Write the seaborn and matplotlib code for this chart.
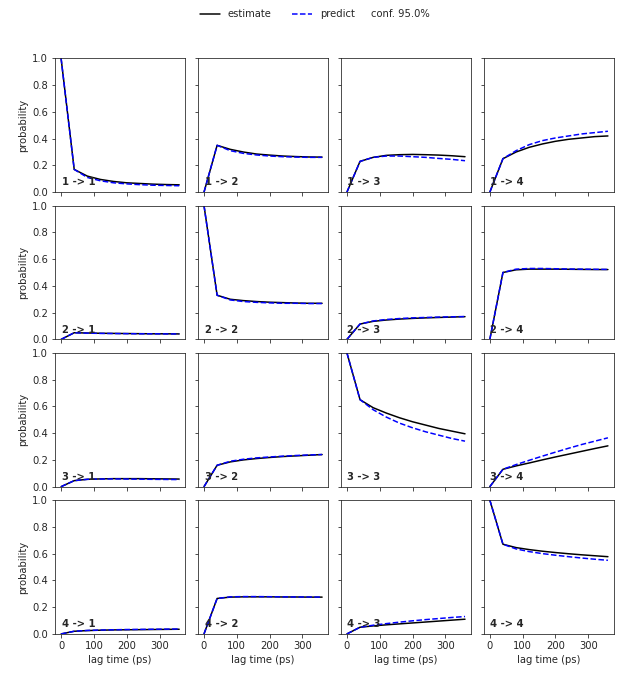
import pandas as pd
import seaborn as sns
import matplotlib.pyplot as plt
from matplotlib.transforms import ScaledTranslation

# lag times in ps
lags = [0, 40, 80, 120, 160, 200, 240, 280, 320, 360]
states = [1, 2, 3, 4]

# estimate / predict, one list per transition i -> j
est_11 = [1.0, 0.17, 0.12, 0.095, 0.08, 0.07, 0.065, 0.06, 0.057, 0.055]
pred_11 = [1.0, 0.17, 0.11, 0.085, 0.07, 0.062, 0.056, 0.052, 0.05, 0.048]
est_12 = [0.0, 0.35, 0.32, 0.30, 0.285, 0.277, 0.27, 0.266, 0.263, 0.262]
pred_12 = [0.0, 0.35, 0.31, 0.29, 0.278, 0.27, 0.265, 0.262, 0.26, 0.26]
est_13 = [0.0, 0.23, 0.26, 0.275, 0.28, 0.282, 0.28, 0.277, 0.272, 0.265]
pred_13 = [0.0, 0.23, 0.26, 0.27, 0.27, 0.265, 0.26, 0.252, 0.245, 0.235]
est_14 = [0.0, 0.25, 0.30, 0.335, 0.36, 0.38, 0.395, 0.405, 0.415, 0.42]
pred_14 = [0.0, 0.25, 0.31, 0.355, 0.385, 0.405, 0.42, 0.435, 0.445, 0.455]

est_21 = [0.0, 0.05, 0.048, 0.046, 0.045, 0.044, 0.043, 0.042, 0.042, 0.041]
pred_21 = [0.0, 0.05, 0.047, 0.045, 0.044, 0.043, 0.042, 0.042, 0.041, 0.041]
est_22 = [1.0, 0.33, 0.30, 0.29, 0.283, 0.278, 0.275, 0.272, 0.27, 0.27]
pred_22 = [1.0, 0.33, 0.295, 0.283, 0.277, 0.273, 0.27, 0.27, 0.268, 0.268]
est_23 = [0.0, 0.115, 0.135, 0.145, 0.152, 0.157, 0.161, 0.164, 0.167, 0.17]
pred_23 = [0.0, 0.115, 0.138, 0.149, 0.156, 0.161, 0.164, 0.167, 0.169, 0.171]
est_24 = [0.0, 0.50, 0.52, 0.525, 0.525, 0.525, 0.524, 0.523, 0.522, 0.522]
pred_24 = [0.0, 0.50, 0.525, 0.53, 0.53, 0.528, 0.526, 0.525, 0.524, 0.523]

est_31 = [0.0, 0.045, 0.055, 0.058, 0.06, 0.06, 0.06, 0.059, 0.058, 0.057]
pred_31 = [0.0, 0.045, 0.055, 0.057, 0.058, 0.057, 0.056, 0.055, 0.054, 0.053]
est_32 = [0.0, 0.16, 0.185, 0.20, 0.21, 0.218, 0.225, 0.23, 0.235, 0.24]
pred_32 = [0.0, 0.16, 0.19, 0.205, 0.215, 0.222, 0.228, 0.233, 0.237, 0.24]
est_33 = [1.0, 0.65, 0.59, 0.55, 0.515, 0.485, 0.46, 0.435, 0.415, 0.395]
pred_33 = [1.0, 0.65, 0.575, 0.52, 0.475, 0.44, 0.41, 0.385, 0.36, 0.34]
est_34 = [0.0, 0.13, 0.155, 0.177, 0.20, 0.222, 0.243, 0.264, 0.285, 0.305]
pred_34 = [0.0, 0.13, 0.165, 0.197, 0.228, 0.258, 0.287, 0.315, 0.34, 0.365]

est_41 = [0.0, 0.02, 0.025, 0.028, 0.03, 0.031, 0.032, 0.033, 0.034, 0.035]
pred_41 = [0.0, 0.02, 0.026, 0.029, 0.031, 0.033, 0.034, 0.035, 0.036, 0.037]
est_42 = [0.0, 0.265, 0.275, 0.277, 0.277, 0.277, 0.276, 0.276, 0.275, 0.275]
pred_42 = [0.0, 0.265, 0.277, 0.279, 0.279, 0.278, 0.277, 0.276, 0.276, 0.275]
est_43 = [0.0, 0.05, 0.06, 0.068, 0.075, 0.082, 0.089, 0.096, 0.103, 0.11]
pred_43 = [0.0, 0.05, 0.065, 0.077, 0.088, 0.098, 0.107, 0.115, 0.123, 0.13]
est_44 = [1.0, 0.67, 0.645, 0.63, 0.618, 0.608, 0.599, 0.591, 0.584, 0.577]
pred_44 = [1.0, 0.67, 0.635, 0.615, 0.60, 0.588, 0.577, 0.567, 0.558, 0.55]

estimates = {
    (1, 1): est_11, (1, 2): est_12, (1, 3): est_13, (1, 4): est_14,
    (2, 1): est_21, (2, 2): est_22, (2, 3): est_23, (2, 4): est_24,
    (3, 1): est_31, (3, 2): est_32, (3, 3): est_33, (3, 4): est_34,
    (4, 1): est_41, (4, 2): est_42, (4, 3): est_43, (4, 4): est_44,
}
predictions = {
    (1, 1): pred_11, (1, 2): pred_12, (1, 3): pred_13, (1, 4): pred_14,
    (2, 1): pred_21, (2, 2): pred_22, (2, 3): pred_23, (2, 4): pred_24,
    (3, 1): pred_31, (3, 2): pred_32, (3, 3): pred_33, (3, 4): pred_34,
    (4, 1): pred_41, (4, 2): pred_42, (4, 3): pred_43, (4, 4): pred_44,
}

sns.set_style("ticks")
plt.rcParams['font.family'] = ['DejaVu Sans']

# rendered at 72 dpi so default 10pt text matches the reference
fig, axes = plt.subplots(4, 4, sharex=True, sharey=True, figsize=(627 / 72, 678 / 72), dpi=72)
fig.subplots_adjust(left=0.088, right=0.979, top=0.914, bottom=0.065, wspace=0.1, hspace=0.1)

for i in states:
    for j in states:
        ax = axes[i - 1, j - 1]
        df = pd.DataFrame({'lag': lags, 'estimate': estimates[(i, j)], 'predict': predictions[(i, j)]})
        sns.lineplot(data=df, x='lag', y='estimate', ax=ax, color='k', linestyle='-', linewidth=1.5)
        sns.lineplot(data=df, x='lag', y='predict', ax=ax, color='b', linestyle='--', linewidth=1.5)
        ax.text(0.05, 0.05, f'{i} -> {j}', transform=ax.transAxes, weight='bold')
        ax.set_ylim(0, 1)
        ax.set_xticks([0, 100, 200, 300])
        ax.set_xlabel('lag time (ps)' if i == 4 else '')
        ax.set_ylabel('probability' if j == 1 else '')

handles = [plt.Line2D([], [], color='k', linestyle='-'),
           plt.Line2D([], [], color='b', linestyle='--')]
leg = fig.legend(handles, ['estimate', 'predict'], loc='upper center',
                 ncol=2, frameon=False, bbox_to_anchor=(0.442, 1.0))

# confidence entry has no visible handle, put its label right after "predict"
fig.canvas.draw()
pred_txt = leg.get_texts()[1]
bb = pred_txt.get_window_extent().transformed(fig.transFigure.inverted())
fig.text(bb.x1, (bb.y0 + bb.y1) / 2, 'conf. 95.0%', va='center', ha='left',
         transform=fig.transFigure + ScaledTranslation(16 / 72, 0, fig.dpi_scale_trans))

plt.savefig('out.png', dpi=72)
